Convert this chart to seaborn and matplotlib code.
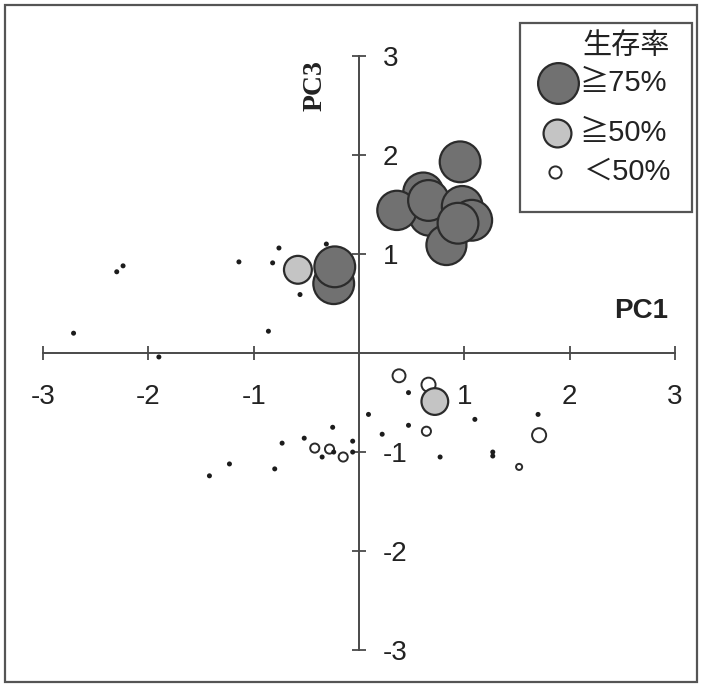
import numpy as np
import pandas as pd
import matplotlib
matplotlib.use("Agg")
import matplotlib.pyplot as plt
from matplotlib.patches import Rectangle
import seaborn as sns

# Principal component scores of each sample and its survival rate (%)
pc1 = [
    # survival >= 75 %
    -0.24, -0.23, 0.61, 0.67, 0.36, 0.66, 0.83, 0.98, 1.07, 0.94, 0.96,
    # survival >= 50 %
    -0.58, 0.72,
    # survival < 50 %
    0.38, 0.66, 0.64, 1.71, 1.52, -0.42, -0.28, -0.15,
    # no survivors
    -2.71, -2.30, -2.24, -1.14, -0.82, -0.76, -0.56, -0.31, -0.86, -1.90,
    0.47, 0.09, 0.47, 0.22, 1.10, 1.70, 0.77, 1.27, 1.27,
    -1.42, -1.23, -0.80, -0.73, -0.52, -0.35, -0.24, -0.25, -0.06, -0.06,
]
pc3 = [
    0.70, 0.87, 1.62, 1.39, 1.44, 1.54, 1.09, 1.48, 1.34, 1.31, 1.93,
    0.84, -0.49,
    -0.23, -0.32, -0.79, -0.83, -1.15, -0.96, -0.97, -1.05,
    0.20, 0.82, 0.88, 0.92, 0.91, 1.06, 0.59, 1.10, 0.22, -0.04,
    -0.40, -0.62, -0.73, -0.82, -0.67, -0.62, -1.05, -1.00, -1.04,
    -1.24, -1.12, -1.17, -0.91, -0.86, -1.05, -1.00, -0.75, -0.89, -1.00,
]
survival = [
    100, 100, 98, 100, 96, 100, 98, 100, 100, 100, 100,
    66, 63,
    26, 29, 16, 29, 8, 16, 16, 16,
    0, 0, 0, 0, 0, 0, 0, 0, 0, 0,
    0, 0, 0, 0, 0, 0, 0, 0, 0,
    0, 0, 0, 0, 0, 0, 0, 0, 0, 0,
]

tick_values = [-3, -2, -1, 1, 2, 3]
legend_title = "生存率"
legend_labels = ["≧75%", "≧50%", "＜50%"]
legend_survival = [100, 66, 24]

DPI = 100
W, H = 701, 686


def marker_area(surv, lw):
    """Marker area (pt^2) with the outer diameter growing with survival."""
    d_px = 5 + 0.38 * np.asarray(surv, dtype=float)
    d_pt = d_px * 72 / DPI - lw
    return np.clip(d_pt, 1.5, None) ** 2


df = pd.DataFrame({"PC1": pc1, "PC3": pc3, "survival": survival})
df["group"] = np.select(
    [df.survival >= 75, df.survival >= 50, df.survival > 0],
    ["high", "mid", "low"], default="none")

styles = {
    "low":  dict(face="white",   edge="#2b2b2b", lw=1.4),
    "mid":  dict(face="#c4c4c4", edge="#2b2b2b", lw=1.6),
    "high": dict(face="#717171", edge="#2b2b2b", lw=1.6),
    "none": dict(face="#1c1c1c", edge="none",    lw=0.0),
}

sns.set_theme(style="white")
plt.rcParams["font.family"] = ["Liberation Sans", "Noto Sans CJK JP", "DejaVu Sans"]
plt.rcParams["axes.unicode_minus"] = False

fig = plt.figure(figsize=(W / DPI, H / DPI), dpi=DPI)
ax = fig.add_axes([0, 0, 1, 1])

for order, grp in enumerate(["low", "mid", "high", "none"]):
    sub = df[df.group == grp]
    st = styles[grp]
    sns.scatterplot(data=sub, x="PC1", y="PC3", ax=ax, legend=False,
                    s=marker_area(sub.survival, st["lw"]),
                    color=st["face"], edgecolor=st["edge"],
                    linewidth=st["lw"], zorder=3 + order)

# data limits so that the unit spacing matches the frame
x0_px, y0_px, sx, sy = 359, 353, 105.33, 99.05
ax.set_xlim((0 - x0_px) / sx, (W - x0_px) / sx)
ax.set_ylim(-(H - y0_px) / sy, y0_px / sy)

# cross-shaped axes through the origin
for side in ("top", "left"):
    ax.spines[side].set_visible(False)
for side in ("right", "bottom"):
    sp = ax.spines[side]
    sp.set_visible(True)
    sp.set_position(("data", 0))
    sp.set_bounds(-3, 3)
    sp.set_color("#4a4a4a")
    sp.set_linewidth(1.4)
    sp.set_zorder(2)
ax.yaxis.set_ticks_position("right")
ax.xaxis.set_ticks_position("bottom")
ax.set_xticks(tick_values)
ax.set_yticks(tick_values)
ax.tick_params(axis="both", direction="inout", length=10, width=1.3,
               color="#4a4a4a", labelsize=20, labelcolor="#222222")
ax.tick_params(axis="x", pad=17)
ax.tick_params(axis="y", pad=12)
ax.set_xlabel("")
ax.set_ylabel("")
ax.grid(False)

ax.text(641 / W, 1 - 311 / H, "PC1", transform=ax.transAxes,
        ha="center", va="center", fontsize=20, fontweight="bold",
        color="#222222")
ax.text(315 / W, 1 - 86 / H, "PC3", transform=ax.transAxes,
        ha="center", va="center", fontsize=20, fontweight="bold",
        rotation=90, family="Liberation Serif", color="#222222")

# legend box
ax.add_patch(Rectangle((520 / W, 1 - 212 / H), (692 - 520) / W, (212 - 23) / H,
                       transform=ax.transAxes, facecolor="white",
                       edgecolor="#555555", linewidth=1.6, zorder=10))
ax.text(626 / W, 1 - 46 / H, legend_title, transform=ax.transAxes,
        ha="center", va="center", fontsize=21, color="#222222",
        family="Noto Sans CJK JP", zorder=11)
legend_groups = ["high", "mid", "low"]
legend_y = [83, 133, 172]
legend_mx = [558, 557, 555]
legend_tx = [580, 580, 584]
for grp, surv, lab, y, mx, tx in zip(legend_groups, legend_survival,
                                     legend_labels, legend_y, legend_mx, legend_tx):
    st = styles[grp]
    ax.scatter([mx / W], [1 - y / H], transform=ax.transAxes,
               s=marker_area([surv], st["lw"]), color=st["face"],
               edgecolor=st["edge"], linewidth=st["lw"], zorder=11)
    ax.text(tx / W, 1 - y / H, lab, transform=ax.transAxes, ha="left",
            va="center", fontsize=21, color="#222222",
            family=["Liberation Sans", "Noto Sans CJK JP"], zorder=11)

# outer frame
fig.patches.append(Rectangle((5 / W, 1 - 682 / H), (697 - 5) / W, (682 - 5) / H,
                             transform=fig.transFigure, fill=False,
                             edgecolor="#555555", linewidth=1.6, zorder=20))

fig.savefig("out.png", dpi=DPI, facecolor="white")
